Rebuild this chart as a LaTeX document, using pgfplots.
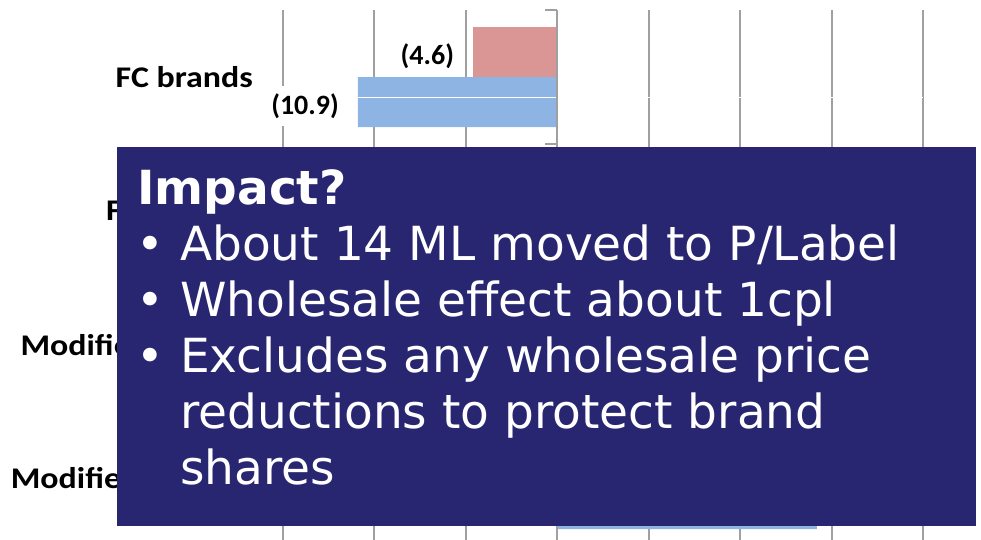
\documentclass[border=0pt]{standalone}
\usepackage{pgfplots}
\pgfplotsset{compat=1.18}
\usepackage{fontspec}
\newfontfamily\dejavu{DejaVu Sans}
\newfontfamily\carlito{Carlito}
\definecolor{navybox}{RGB}{40,38,112}
\definecolor{barred}{RGB}{217,150,148}
\definecolor{barblue}{RGB}{142,180,227}
\definecolor{gridgray}{RGB}{160,160,160}
\begin{document}
\begin{tikzpicture}
\path[use as bounding box, clip] (0pt,0pt) rectangle (981pt,539pt);
\begin{axis}[
  at={(283pt,-7pt)}, anchor=south west,
  scale only axis, width=640pt, height=536pt,
  xmin=-15, xmax=20, ymin=-0.5, ymax=3.5, y dir=reverse,
  xtick={-15,-10,...,20}, xticklabels={},
  xmajorgrids, major grid style={draw=gridgray, line width=2pt},
  ytick={0,1,2,3},
  yticklabels={{\scalebox{1.13}[1]{FC brands}}, {\scalebox{1.13}[1]{FC P/Label}}, {\scalebox{1.13}[1]{Modified brands}}, {\scalebox{1.13}[1]{Modified P/Label}}},
  yticklabel style={font=\carlito\bfseries\fontsize{30}{30}\selectfont, anchor=east, inner sep=0pt, xshift=-30pt, text=black},
  major tick length=0pt,
  axis line style={draw=none},
  xbar, bar width=50pt,
  clip=false,
  nodes near coords, point meta=explicit symbolic,
  every node near coord/.append style={font=\carlito\bfseries\fontsize{28}{28}\selectfont, anchor=east, fill=white, inner xsep=4pt, inner ysep=7pt, xshift=-15pt, yshift=-4pt, text=black},
]
\addplot[draw=none, fill=barred, bar shift=25pt] coordinates {
  (-4.6,0) [(4.6)]
  (4.6,1) [4.6]
  (-3.2,2) [(3.2)]
  (3.2,3) [3.2]
};
\addplot[draw=none, fill=barblue, bar shift=-25pt] coordinates {
  (-10.9,0) [(10.9)]
  (10.9,1) [10.9]
  (-14.2,2) [(14.2)]
  (14.2,3) [14.2]
};
\draw[white, line width=0.8pt] ([yshift=-20pt]axis cs:-15,0) -- ([yshift=-20pt]axis cs:20,0);
\draw[gridgray, line width=2pt] (axis cs:0,-0.5) -- (axis cs:0,3.5);
\draw[gridgray, line width=2pt] (axis cs:0,-0.5) -- ++(-12pt,0pt);
\draw[gridgray, line width=2pt] (axis cs:0,0.5) -- ++(-12pt,0pt);
\draw[gridgray, line width=2pt] (axis cs:0,1.5) -- ++(-12pt,0pt);
\draw[gridgray, line width=2pt] (axis cs:0,2.5) -- ++(-12pt,0pt);
\draw[gridgray, line width=2pt] (axis cs:0,3.5) -- ++(-12pt,0pt);
\end{axis}
\fill[navybox] (117pt,13pt) rectangle (976pt,392pt);
\begin{scope}[every node/.style={text=white, inner sep=0pt, anchor=base west, font=\dejavu\fontsize{47}{47}\selectfont}]
\node[font=\dejavu\bfseries\fontsize{47}{47}\selectfont] at (137pt,335pt) {Impact?};
\node at (136pt,279pt) {\textbullet};
\node at (180pt,279pt) {About 14 ML moved to P/Label};
\node at (136pt,223pt) {\textbullet};
\node at (180pt,223pt) {Wholesale effect about 1cpl};
\node at (136pt,167pt) {\textbullet};
\node at (180pt,167pt) {Excludes any wholesale price};
\node at (180pt,111pt) {reductions to protect brand};
\node at (180pt,55pt) {shares};
\end{scope}
\end{tikzpicture}
\end{document}
